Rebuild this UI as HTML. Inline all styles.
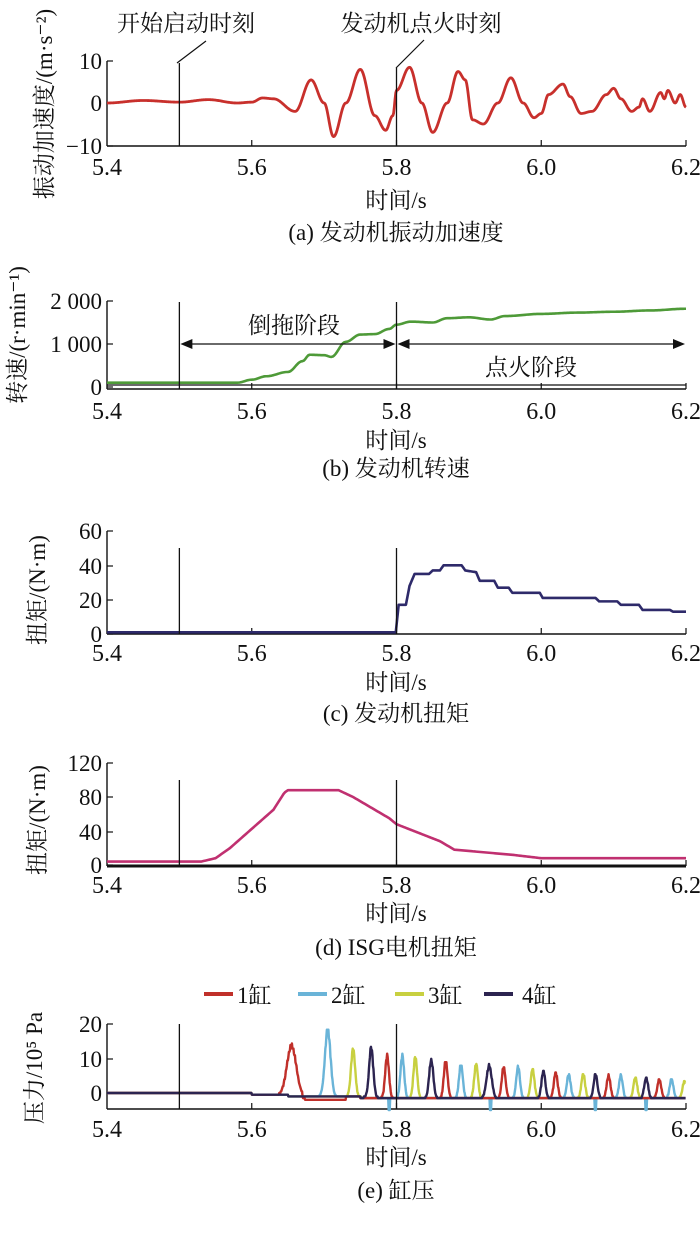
<!DOCTYPE html>
<html><head><meta charset="utf-8">
<style>
html,body{margin:0;padding:0;background:#fff;}
svg text{font-family:"Liberation Serif","Noto Serif CJK SC",serif;fill:#111;}
</style></head>
<body>
<svg id="s" width="700" height="1232" viewBox="0 0 700 1232" xmlns="http://www.w3.org/2000/svg">
<g id="g"></g>
</svg>
<script>
var NS="http://www.w3.org/2000/svg",G=document.getElementById('g');
var FS=23;
function el(n,a,t){var e=document.createElementNS(NS,n);for(var k in a)e.setAttribute(k,a[k]);if(t!==undefined)e.textContent=t;G.appendChild(e);return e;}
function X(t){return 107+(t-5.4)*723.75;}
function line(x1,y1,x2,y2,w,c){el('line',{x1:x1,y1:y1,x2:x2,y2:y2,stroke:c||'#111','stroke-width':w||1.3});}
function txt(x,y,s,sz,anc,extra){var a={x:x,y:y,'font-size':sz||FS,'text-anchor':anc||'middle'};for(var k in extra)a[k]=extra[k];return el('text',a,s);}
function interp(pts,t){for(var i=0;i<pts.length-1;i++){if(t>=pts[i][0]&&t<=pts[i+1][0]){var f=(t-pts[i][0])/(pts[i+1][0]-pts[i][0]);return pts[i][1]+f*(pts[i+1][1]-pts[i][1]);}}return pts[pts.length-1][1];}
function sinterp(pts,t){for(var i=0;i<pts.length-1;i++){if(t>=pts[i][0]&&t<=pts[i+1][0]){var f=(t-pts[i][0])/(pts[i+1][0]-pts[i][0]);f=(1-Math.cos(f*Math.PI))/2;return pts[i][1]+f*(pts[i+1][1]-pts[i][1]);}}return pts[pts.length-1][1];}
function curve(fn,Y,color,w,t0,t1,dt){var d='';for(var t=t0;t<=t1+1e-9;t+=dt){var x=X(t),y=Y(fn(t));d+=(d?'L':'M')+x.toFixed(2)+' '+y.toFixed(2);}el('path',{d:d,fill:'none',stroke:color,'stroke-width':w,'stroke-linejoin':'round'});}
function ylab(x,y,s){txt(x,y,s,FS,'middle',{transform:'rotate(-90 '+x+' '+y+')'});}
function ax(top,bot,xlY,xtY,yT){
  line(107,top,107,bot,1.4);line(107,bot,686,bot,1.4);
  [5.6,5.8,6.0,6.2].forEach(function(t){line(X(t),bot,X(t),bot-6,1.2);});
  yT.forEach(function(p){line(107,p[0],113,p[0],1.2);txt(102,p[0]+8,p[1],FS,'end');});
  [['5.4',5.4],['5.6',5.6],['5.8',5.8],['6.0',6.0],['6.2',6.2]].forEach(function(p){txt(X(p[1]),xlY,p[0],FS+1);});
  txt(396,xtY,'时间/s',FS);
}
(function(){
 // (a)
 var Ya=function(v){return 103-v*4.2;};
 ax(61,146,175,208,[[61,'10'],[103,'0'],[146,'−10']]);
 var pa=[[5.4,0],[5.45,0.6],[5.5,0.2],[5.54,0.8],[5.58,0],[5.6,0.2],[5.615,1.2],[5.63,1],[5.66,-2],[5.682,5.5],[5.7,0],[5.713,-8],[5.73,0],[5.75,8],[5.77,-3],[5.785,-6.5],[5.795,-3],[5.8,3],[5.818,8.5],[5.835,0],[5.85,-7],[5.87,0],[5.885,7.5],[5.895,5.5],[5.905,-4],[5.92,-5],[5.94,0],[5.958,6],[5.975,0],[5.99,-3.5],[6.0,-2.5],[6.01,2],[6.03,4.5],[6.04,1.5],[6.055,-2.5],[6.07,-2],[6.09,2],[6.1,3.5],[6.11,1],[6.125,-2],[6.135,-1],[6.14,1],[6.15,-2],[6.165,2.5],[6.17,1],[6.175,3],[6.185,0],[6.192,2],[6.2,-1]];
 curve(function(t){return sinterp(pa,t);},Ya,'#c8302c',2.8,5.4,6.2,0.001);
 line(X(5.5),63,X(5.5),146,1.3);line(X(5.8),68,X(5.8),146,1.3);
 line(177,63,206,41,1.2);line(396,68,424,40,1.2);
 txt(186,31,'开始启动时刻',FS);txt(421,31,'发动机点火时刻',FS);
 ylab(52,104,'振动加速度/(m·s⁻²)');
 txt(396,240,'(a) 发动机振动加速度',FS);

 // (b)
 var Yb=function(v){return 387-v*0.043;};
 ax(301,389,419,448,[[301,'2 000'],[344,'1 000'],[387,'0']]);
 line(107,385,686,385,1.3);
 var pb=[[5.4,100],[5.58,100],[5.6,170],[5.62,250],[5.65,350],[5.67,600],[5.68,750],[5.7,740],[5.71,700],[5.73,1050],[5.75,1220],[5.77,1230],[5.79,1350],[5.8,1450],[5.82,1520],[5.85,1500],[5.87,1600],[5.9,1620],[5.93,1570],[5.95,1650],[6.0,1700],[6.05,1730],[6.1,1750],[6.15,1780],[6.2,1820]];
 curve(function(t){return sinterp(pb,t);},Yb,'#4e9a38',2.6,5.4,6.2,0.002);
 line(X(5.5),302,X(5.5),389,1.3);line(X(5.8),302,X(5.8),389,1.3);
 line(X(5.5)+8,344,X(5.8)-8,344,1.3);line(X(5.8)+8,344,686-8,344,1.3);
 el('path',{d:'M'+(X(5.5)+1)+' 344 l12 -5 v10z M'+(X(5.8)-1)+' 344 l-12 -5 v10z M'+(X(5.8)+1)+' 344 l12 -5 v10z M685 344 l-12 -5 v10z',fill:'#111'});
 txt(294,333,'倒拖阶段',FS);txt(531,375,'点火阶段',FS);
 ylab(25,335,'转速/(r·min⁻¹)');
 txt(396,476,'(b) 发动机转速',FS);

 // (c)
 var Yc=function(v){return 634-v*1.717;};
 ax(531,634,661,690,[[531,'60'],[566,'40'],[600,'20'],[634,'0']]);
 var pc=[[5.4,1],[5.799,1],[5.803,17],[5.813,17],[5.818,28],[5.825,35],[5.845,35],[5.85,37],[5.86,37],[5.865,40],[5.89,40],[5.895,37],[5.91,36],[5.915,31],[5.935,31],[5.94,27],[5.955,27],[5.96,24],[5.998,24],[6.002,21],[6.075,21],[6.08,19],[6.105,19],[6.11,17],[6.135,17],[6.14,14],[6.178,14],[6.182,13],[6.2,13]];
 curve(function(t){return interp(pc,t);},Yc,'#2e2a6a',2.6,5.4,6.2,0.001);
 line(X(5.5),548,X(5.5),634,1.3);line(X(5.8),548,X(5.8),634,1.3);
 ylab(45,590,'扭矩/(N·m)');
 txt(396,721,'(c) 发动机扭矩',FS);

 // (d)
 var Yd=function(v){return 865-v*0.85;};
 ax(763,866,893,921,[[763,'120'],[797,'80'],[832,'40'],[865,'0']]);
 line(107,866,686,866,3);
 var pd=[[5.4,4],[5.53,4],[5.55,8],[5.57,20],[5.59,35],[5.61,50],[5.63,65],[5.645,85],[5.65,88],[5.72,88],[5.74,80],[5.77,65],[5.79,55],[5.8,48],[5.83,38],[5.86,28],[5.88,18],[5.92,15],[5.96,12],[6.0,8],[6.2,8]];
 curve(function(t){return interp(pd,t);},Yd,'#c03070',2.6,5.4,6.2,0.002);
 line(X(5.5),780,X(5.5),865,1.3);line(X(5.8),780,X(5.8),865,1.3);
 ylab(45,820,'扭矩/(N·m)');
 txt(396,955,'(d) ISG电机扭矩',FS);

 // (e)
 var Ye=function(v){return 1093-v*3.42;};
 ax(1024,1109,1137,1165,[[1024,'20'],[1059,'10'],[1093,'0']]);
 var cols={r:'#c0302a',b:'#6ab4d8',y:'#c8d040',k:'#2c2450'};
 var sp=[['r',5.655,14.5,0.01],['b',5.705,19.5,0.006],['y',5.74,14,0.0045],['k',5.765,14.5,0.0045],['r',5.787,12.5,0.004],['b',5.808,12.5,0.004],['y',5.826,12,0.004],['k',5.848,11,0.0045],['r',5.868,11,0.004],['b',5.889,10,0.004],['y',5.91,10,0.004],['k',5.928,9.5,0.0055],['r',5.948,9,0.004],['b',5.968,9,0.004],['y',5.988,8.5,0.004],['k',6.003,8,0.004],['r',6.02,7.5,0.004],['b',6.038,7,0.004],['y',6.058,7,0.004],['k',6.075,7,0.004],['r',6.093,6.5,0.004],['b',6.11,6.5,0.004],['y',6.13,6,0.004],['k',6.145,6,0.004],['r',6.163,5.5,0.004],['b',6.18,5.5,0.004],['y',6.198,5,0.004]];
 var dips={b:[5.79,5.93,6.075,6.145],k:[],r:[],y:[]};
 ['y','b','r','k'].forEach(function(c){
  var f=function(t){
   var v=t<5.6?0:(t<5.8?-0.5-(t-5.6)*5:-1.5);
   if(c=='r'&&t>5.67&&t<5.73)v=-2;
   sp.forEach(function(s){if(s[0]==c){var z=(t-s[1])/s[3];v+=s[2]*Math.exp(-z*z*1.2)*(1+0.05*Math.sin(t*3000));}});
   dips[c].forEach(function(d){if(Math.abs(t-d)<0.0012)v=-5;});
   return Math.round(v*2)/2;
  };
  curve(f,Ye,cols[c],2.4,5.4,6.2,0.0007);
 });
 line(X(5.5),1024,X(5.5),1109,1.3);line(X(5.8),1024,X(5.8),1109,1.3);
 [['r',204,237],['b',298,331],['y',395,428],['k',484,522]].forEach(function(l,i){
  line(l[1],994,l[1]+29,994,4,cols[l[0]]);txt(l[2],1003,(i+1)+'缸',FS,'start');
 });
 ylab(42,1068,'压力/10⁵ Pa');
 txt(396,1198,'(e) 缸压',FS);
})();
</script>
</body></html>
